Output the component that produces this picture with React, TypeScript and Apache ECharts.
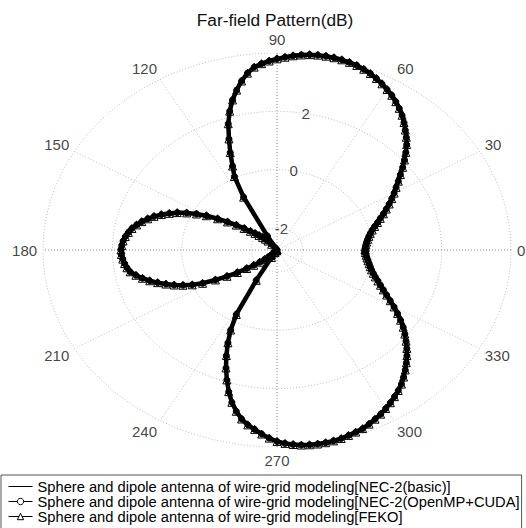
import React, { useEffect, useRef } from 'react';
import * as echarts from 'echarts';

// sample angles (degrees) of the far-field pattern
const angleDeg = [
  0, 2, 4, 6, 8, 10, 12, 14, 16, 18, 20, 22, 24, 26, 28, 30, 32, 34, 36, 38,
  40, 42, 44, 46, 48, 50, 52, 54, 56, 58, 60, 62, 64, 66, 68, 70, 72, 74, 76, 78,
  80, 82, 84, 86, 88, 90, 92, 94, 96, 98, 100, 102, 104, 106, 108, 110, 112, 114, 116, 118,
  120, 122, 124, 126, 128, 130, 132, 134, 136, 138, 140, 142, 144, 146, 148, 150, 152, 154, 156, 158,
  160, 162, 164, 166, 168, 170, 172, 174, 176, 178, 180, 182, 184, 186, 188, 190, 192, 194, 196, 198,
  200, 202, 204, 206, 208, 210, 212, 214, 216, 218, 220, 222, 224, 226, 228, 230, 232, 234, 236, 238,
  240, 242, 244, 246, 248, 250, 252, 254, 256, 258, 260, 262, 264, 266, 268, 270, 272, 274, 276, 278,
  280, 282, 284, 286, 288, 290, 292, 294, 296, 298, 300, 302, 304, 306, 308, 310, 312, 314, 316, 318,
  320, 322, 324, 326, 328, 330, 332, 334, 336, 338, 340, 342, 344, 346, 348, 350, 352, 354, 356, 358,
];

// gain in dB (the three solvers overlap in the figure)
const patternDb = [
  -0.21, -0.2, -0.18, -0.15, -0.11, -0.06, 0.0, 0.08, 0.18, 0.3,
  0.42, 0.56, 0.7, 0.85, 1.0, 1.15, 1.3, 1.47, 1.65, 1.85,
  2.05, 2.25, 2.45, 2.62, 2.78, 2.95, 3.11, 3.25, 3.38, 3.5,
  3.6, 3.7, 3.79, 3.87, 3.93, 3.98, 4.01, 4.03, 4.04, 4.04,
  4.03, 4.01, 3.97, 3.92, 3.86, 3.8, 3.73, 3.65, 3.55, 3.37,
  3.13, 2.85, 2.55, 2.2, 1.8, 1.3, 0.85, 0.4, 0.05, -0.7,
  -2.2, -2.7, -2.75, -2.65, -2.5, -2.35, -2.25, -2.15, -2.03, -1.9,
  -1.75, -1.55, -1.3, -1.03, -0.73, -0.4, -0.12, 0.15, 0.4, 0.6,
  0.8, 0.98, 1.13, 1.27, 1.39, 1.5, 1.58, 1.65, 1.7, 1.73,
  1.75, 1.74, 1.71, 1.67, 1.62, 1.55, 1.41, 1.25, 1.07, 0.87,
  0.66, 0.45, 0.22, -0.03, -0.32, -0.7, -1.05, -1.37, -1.67, -1.9,
  -2.1, -2.27, -2.4, -2.53, -2.63, -2.71, -2.75, -2.73, -2.65, -2.45,
  -1.55, -0.25, 0.3, 0.73, 1.15, 1.55, 1.93, 2.3, 2.63, 2.9,
  3.13, 3.3, 3.43, 3.57, 3.7, 3.81, 3.88, 3.93, 3.97, 3.99,
  4.0, 4.0, 3.99, 3.97, 3.93, 3.89, 3.85, 3.78, 3.7, 3.62,
  3.52, 3.42, 3.31, 3.2, 3.08, 2.93, 2.78, 2.62, 2.46, 2.29,
  2.11, 1.93, 1.75, 1.55, 1.35, 1.15, 0.95, 0.77, 0.61, 0.47,
  0.35, 0.23, 0.14, 0.06, 0.0, -0.05, -0.1, -0.14, -0.17, -0.2,
];

const seriesNames = [
  'Sphere and dipole antenna of wire-grid modeling[NEC-2(basic)]',
  'Sphere and dipole antenna of wire-grid modeling[NEC-2(OpenMP+CUDA]',
  'Sphere and dipole antenna of wire-grid modeling[FEKO]',
];

const ringDb = [-2, 0, 2, 4];
const ringLabelDb = [-2, 0, 2];
const angleTicks = [0, 30, 60, 90, 120, 150, 180, 210, 240, 270, 300, 330];
const spokeAngles = [0, 30, 60, 90, 120, 150];

const DB_CENTER = -2.75;
const DB_OUTER = 4;
const SPAN = DB_OUTER - DB_CENTER;
const LABEL_ANGLE = 80;
const ANGLE_LABEL_RX = 6.92;
const ANGLE_LABEL_RY = 7.2;
const FONT = "'Liberation Sans', Arial, Helvetica, sans-serif";

const rad = (d: number) => (d * Math.PI) / 180;
const toXY = (angle: number, db: number) => {
  const r = Math.max(0, db - DB_CENTER);
  return [r * Math.cos(rad(angle)), r * Math.sin(rad(angle))];
};

export default function App() {
  const ref = useRef<HTMLDivElement>(null);
  useEffect(() => {
    if (!ref.current) return;
    const chart = echarts.init(ref.current, null, { renderer: 'svg' });

    const pts = angleDeg.map((a, i) => toXY(a, patternDb[i]));
    pts.push(pts[0]);

    const gridSeries: any[] = [];
    ringDb.forEach((db) => {
      const ring: number[][] = [];
      for (let a = 0; a <= 360; a += 2) ring.push(toXY(a, db));
      gridSeries.push({
        type: 'line', data: ring, symbol: 'none', silent: true, z: 1,
        lineStyle: { color: '#bdbdbd', width: 1, type: [1, 2] },
      });
    });
    spokeAngles.forEach((a) => {
      const major = a % 90 === 0;
      gridSeries.push({
        type: 'line', symbol: 'none', silent: true, z: 1,
        data: [toXY(a, DB_OUTER), toXY(a + 180, DB_OUTER)],
        lineStyle: { color: major ? '#8a8a8a' : '#c4c4c4', width: 1, type: [1, 2] },
      });
    });

    const labelStyle = {
      show: true, position: 'inside', formatter: '{b}',
      fontFamily: FONT, fontSize: 15, color: '#111',
    };
    const angleLabelSeries = {
      type: 'scatter', symbolSize: 0, silent: true, z: 2, clip: false,
      data: angleTicks.map((a) => {
        const c = Math.cos(rad(a));
        return {
          name: String(a),
          value: [ANGLE_LABEL_RX * c, ANGLE_LABEL_RY * Math.sin(rad(a))],
          label: { align: c > 0.01 ? 'left' : c < -0.01 ? 'right' : 'center' },
        };
      }),
      label: labelStyle,
      labelLayout: { hideOverlap: false },
    };
    const ringLabelSeries = {
      type: 'scatter', symbolSize: 0, silent: true, z: 2, clip: false,
      data: ringLabelDb.map((db) => ({ name: String(db), value: toXY(LABEL_ANGLE, db) })),
      label: labelStyle,
    };

    const invisible = { color: 'rgba(0,0,0,0)', borderColor: 'rgba(0,0,0,0)', borderWidth: 0 };
    const option: any = {
      animation: false,
      backgroundColor: '#fff',
      grid: { left: 43, top: 53, width: 468, height: 394 },
      xAxis: { type: 'value', min: -SPAN, max: SPAN, show: false, splitLine: { show: false } },
      yAxis: { type: 'value', min: -SPAN, max: SPAN, show: false, splitLine: { show: false } },
      graphic: [
        {
          type: 'text', x: 275, y: 20, silent: true,
          style: {
            text: 'Far-field Pattern(dB)', fontFamily: FONT, fontSize: 17.3,
            fill: '#111', align: 'center', verticalAlign: 'middle',
          },
        },
      ],
      legend: {
        orient: 'vertical', left: 1, top: 475, height: 60,
        itemWidth: 24, itemHeight: 8, itemGap: 0,
        padding: [4, 2, 6, 7],
        borderColor: '#555', borderWidth: 1, borderRadius: 0,
        backgroundColor: '#fff',
        textStyle: { fontFamily: FONT, fontSize: 14.7, lineHeight: 15, color: '#000' },
        lineStyle: { width: 1, color: '#000' },
        data: [
          { name: seriesNames[0], itemStyle: invisible },
          { name: seriesNames[1], itemStyle: { color: '#fff', borderColor: '#000', borderWidth: 1 } },
          { name: seriesNames[2], itemStyle: { color: '#fff', borderColor: '#000', borderWidth: 1 } },
        ],
      },
      series: [
        ...gridSeries,
        angleLabelSeries,
        ringLabelSeries,
        {
          name: seriesNames[0], type: 'line', data: pts, symbol: 'none', z: 5,
          lineStyle: { color: '#000', width: 1 }, itemStyle: { color: '#000' },
        },
        {
          name: seriesNames[1], type: 'line', data: pts, symbol: 'circle', symbolSize: 6,
          showAllSymbol: true, z: 6,
          lineStyle: { color: '#000', width: 4.5 },
          itemStyle: { color: '#000', borderColor: '#000', borderWidth: 1 },
        },
        {
          name: seriesNames[2], type: 'line', data: pts, symbol: 'triangle', symbolSize: 8,
          showAllSymbol: true, z: 7,
          lineStyle: { color: '#000', width: 1 },
          itemStyle: { color: 'rgba(255,255,255,0)', borderColor: '#000', borderWidth: 1 },
        },
      ],
    };
    chart.setOption(option);
    return () => chart.dispose();
  }, []);
  return (
    <div
      ref={ref}
      style={{ position: 'fixed', left: 0, top: 0, width: 526, height: 528, background: '#fff' }}
    />
  );
}
